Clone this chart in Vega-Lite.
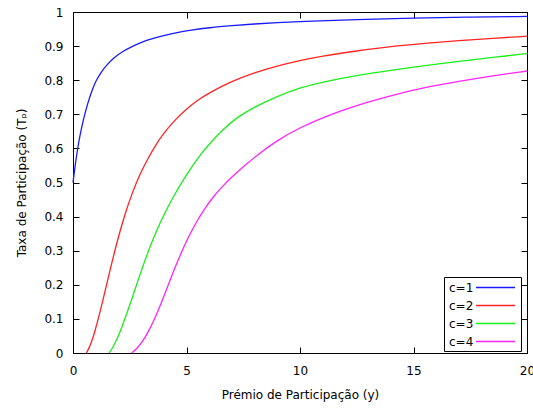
{
  "$schema": "https://vega.github.io/schema/vega-lite/v6.json",
  "width": 454,
  "height": 341,
  "autosize": "none",
  "padding": {"left": 73, "top": 12, "right": 6, "bottom": 55},
  "background": "white",
  "config": {
    "view": {"stroke": "#000", "strokeWidth": 1},
    "font": "DejaVu Sans",
    "axis": {
      "labelFont": "DejaVu Sans",
      "labelFontSize": 12,
      "labelColor": "#000",
      "labelFlush": false,
      "titleFont": "DejaVu Sans",
      "titleFontSize": 12,
      "titleFontWeight": "normal",
      "titleColor": "#000",
      "grid": false,
      "domain": false,
      "tickColor": "#000",
      "tickSize": -6,
      "tickWidth": 1
    }
  },
  "data": {
    "values": [
      {"c": "c=1", "y": 0, "T": 0.5},
      {"c": "c=1", "y": 0.1, "T": 0.553},
      {"c": "c=1", "y": 0.2, "T": 0.598},
      {"c": "c=1", "y": 0.3, "T": 0.636},
      {"c": "c=1", "y": 0.45, "T": 0.683},
      {"c": "c=1", "y": 0.65, "T": 0.733},
      {"c": "c=1", "y": 0.85, "T": 0.772},
      {"c": "c=1", "y": 1.0, "T": 0.797},
      {"c": "c=1", "y": 1.25, "T": 0.825},
      {"c": "c=1", "y": 1.5, "T": 0.846},
      {"c": "c=1", "y": 1.8, "T": 0.866},
      {"c": "c=1", "y": 2.2, "T": 0.885},
      {"c": "c=1", "y": 2.6, "T": 0.899},
      {"c": "c=1", "y": 3.0, "T": 0.911},
      {"c": "c=1", "y": 3.5, "T": 0.922},
      {"c": "c=1", "y": 4.0, "T": 0.931},
      {"c": "c=1", "y": 4.5, "T": 0.939},
      {"c": "c=1", "y": 5.2, "T": 0.947},
      {"c": "c=1", "y": 6, "T": 0.954},
      {"c": "c=1", "y": 7, "T": 0.96},
      {"c": "c=1", "y": 8, "T": 0.965},
      {"c": "c=1", "y": 9, "T": 0.969},
      {"c": "c=1", "y": 10, "T": 0.972},
      {"c": "c=1", "y": 12.5, "T": 0.978},
      {"c": "c=1", "y": 15, "T": 0.982},
      {"c": "c=1", "y": 17.5, "T": 0.985},
      {"c": "c=1", "y": 20, "T": 0.987},
      {"c": "c=2", "y": 0.586, "T": 0},
      {"c": "c=2", "y": 0.7, "T": 0.013},
      {"c": "c=2", "y": 0.85, "T": 0.038},
      {"c": "c=2", "y": 1.0, "T": 0.072},
      {"c": "c=2", "y": 1.15, "T": 0.11},
      {"c": "c=2", "y": 1.3, "T": 0.15},
      {"c": "c=2", "y": 1.46, "T": 0.195},
      {"c": "c=2", "y": 1.65, "T": 0.248},
      {"c": "c=2", "y": 1.85, "T": 0.302},
      {"c": "c=2", "y": 2.05, "T": 0.352},
      {"c": "c=2", "y": 2.3, "T": 0.41},
      {"c": "c=2", "y": 2.6, "T": 0.468},
      {"c": "c=2", "y": 2.93, "T": 0.522},
      {"c": "c=2", "y": 3.3, "T": 0.571},
      {"c": "c=2", "y": 3.67, "T": 0.613},
      {"c": "c=2", "y": 4.0, "T": 0.645},
      {"c": "c=2", "y": 4.5, "T": 0.684},
      {"c": "c=2", "y": 5.0, "T": 0.716},
      {"c": "c=2", "y": 5.5, "T": 0.742},
      {"c": "c=2", "y": 6.0, "T": 0.763},
      {"c": "c=2", "y": 7.0, "T": 0.797},
      {"c": "c=2", "y": 8.0, "T": 0.8225},
      {"c": "c=2", "y": 9.0, "T": 0.842},
      {"c": "c=2", "y": 10, "T": 0.858},
      {"c": "c=2", "y": 11, "T": 0.871},
      {"c": "c=2", "y": 12.5, "T": 0.886},
      {"c": "c=2", "y": 14, "T": 0.899},
      {"c": "c=2", "y": 15.5, "T": 0.908},
      {"c": "c=2", "y": 17, "T": 0.9165},
      {"c": "c=2", "y": 18.5, "T": 0.923},
      {"c": "c=2", "y": 20, "T": 0.929},
      {"c": "c=3", "y": 1.586, "T": 0},
      {"c": "c=3", "y": 1.75, "T": 0.015},
      {"c": "c=3", "y": 1.95, "T": 0.042},
      {"c": "c=3", "y": 2.15, "T": 0.075},
      {"c": "c=3", "y": 2.4, "T": 0.121},
      {"c": "c=3", "y": 2.65, "T": 0.17},
      {"c": "c=3", "y": 2.9, "T": 0.22},
      {"c": "c=3", "y": 3.15, "T": 0.268},
      {"c": "c=3", "y": 3.4, "T": 0.313},
      {"c": "c=3", "y": 3.7, "T": 0.362},
      {"c": "c=3", "y": 4.0, "T": 0.405},
      {"c": "c=3", "y": 4.4, "T": 0.456},
      {"c": "c=3", "y": 4.8, "T": 0.502},
      {"c": "c=3", "y": 5.2, "T": 0.543},
      {"c": "c=3", "y": 5.6, "T": 0.58},
      {"c": "c=3", "y": 6.0, "T": 0.613},
      {"c": "c=3", "y": 6.6, "T": 0.655},
      {"c": "c=3", "y": 7.2, "T": 0.69},
      {"c": "c=3", "y": 8.0, "T": 0.722},
      {"c": "c=3", "y": 9.0, "T": 0.753},
      {"c": "c=3", "y": 10, "T": 0.778},
      {"c": "c=3", "y": 11, "T": 0.795},
      {"c": "c=3", "y": 12.5, "T": 0.814},
      {"c": "c=3", "y": 14, "T": 0.829},
      {"c": "c=3", "y": 15.5, "T": 0.843},
      {"c": "c=3", "y": 17, "T": 0.855},
      {"c": "c=3", "y": 18.5, "T": 0.867},
      {"c": "c=3", "y": 20, "T": 0.878},
      {"c": "c=4", "y": 2.586, "T": 0},
      {"c": "c=4", "y": 2.8, "T": 0.012},
      {"c": "c=4", "y": 3.05, "T": 0.032},
      {"c": "c=4", "y": 3.3, "T": 0.06},
      {"c": "c=4", "y": 3.6, "T": 0.1},
      {"c": "c=4", "y": 3.9, "T": 0.148},
      {"c": "c=4", "y": 4.2, "T": 0.2},
      {"c": "c=4", "y": 4.5, "T": 0.252},
      {"c": "c=4", "y": 4.8, "T": 0.299},
      {"c": "c=4", "y": 5.1, "T": 0.342},
      {"c": "c=4", "y": 5.45, "T": 0.386},
      {"c": "c=4", "y": 5.8, "T": 0.424},
      {"c": "c=4", "y": 6.2, "T": 0.46},
      {"c": "c=4", "y": 6.6, "T": 0.49},
      {"c": "c=4", "y": 7.0, "T": 0.516},
      {"c": "c=4", "y": 7.5, "T": 0.546},
      {"c": "c=4", "y": 8.1, "T": 0.58},
      {"c": "c=4", "y": 9.0, "T": 0.624},
      {"c": "c=4", "y": 10, "T": 0.661},
      {"c": "c=4", "y": 11, "T": 0.691},
      {"c": "c=4", "y": 12.5, "T": 0.727},
      {"c": "c=4", "y": 14, "T": 0.755},
      {"c": "c=4", "y": 15.5, "T": 0.779},
      {"c": "c=4", "y": 17, "T": 0.797},
      {"c": "c=4", "y": 18.5, "T": 0.813},
      {"c": "c=4", "y": 20, "T": 0.827}
    ]
  },
  "layer": [
    {
      "mark": {"type": "line", "interpolate": "basis", "strokeWidth": 1.3},
      "encoding": {
        "x": {
          "field": "y", "type": "quantitative",
          "scale": {"domain": [0, 20], "nice": false},
          "axis": {
            "orient": "bottom",
            "values": [0, 5, 10, 15, 20],
            "title": "Prémio de Participação (y)",
            "labelPadding": 18,
            "titlePadding": 13
          }
        },
        "y": {
          "field": "T", "type": "quantitative",
          "scale": {"domain": [0, 1], "nice": false},
          "axis": {
            "orient": "left",
            "values": [0, 0.1, 0.2, 0.3, 0.4, 0.5, 0.6, 0.7, 0.8, 0.9, 1],
            "format": "~g",
            "title": "Taxa de Participação (Tₚ)",
            "labelPadding": 16,
            "titlePadding": 15
          }
        },
        "color": {
          "field": "c", "type": "nominal",
          "scale": {"domain": ["c=1", "c=2", "c=3", "c=4"], "range": ["#1a1aff", "#ff2424", "#1aee1a", "#ff24ff"]},
          "legend": {
            "orient": "none",
            "legendX": 371,
            "legendY": 265,
            "title": null,
            "symbolType": "M3.31,0H9.31",
            "symbolSize": 169,
            "symbolStrokeWidth": 1.3,
            "labelFont": "DejaVu Sans",
            "labelFontSize": 12,
            "labelColor": "#000",
            "labelAlign": "left",
            "labelOffset": -13,
            "strokeColor": "#000",
            "fillColor": "white",
            "padding": 3,
            "rowPadding": 4
          }
        }
      }
    },
    {
      "mark": {"type": "line", "opacity": 0},
      "encoding": {
        "x": {
          "field": "y", "type": "quantitative",
          "axis": {"orient": "top", "values": [0, 5, 10, 15, 20], "labels": false, "title": null}
        },
        "y": {
          "field": "T", "type": "quantitative",
          "axis": {"orient": "right", "values": [0, 0.1, 0.2, 0.3, 0.4, 0.5, 0.6, 0.7, 0.8, 0.9, 1], "labels": false, "title": null}
        }
      }
    }
  ],
  "resolve": {"axis": {"x": "independent", "y": "independent"}}
}
